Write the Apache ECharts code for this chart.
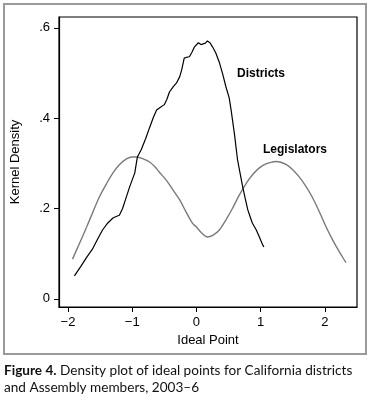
<!DOCTYPE html>
<html><head><meta charset="utf-8">
<script src="https://cdn.jsdelivr.net/npm/echarts@6/dist/echarts.min.js"></script>
<style>html,body{margin:0;padding:0;background:#fff}#c{width:372px;height:400px}</style>
</head><body><div id="c"></div>
<script>
// Districts kernel density (ideal point, density)
const districtsX = [-1.90,-1.80,-1.71,-1.62,-1.54,-1.46,-1.38,-1.30,-1.24,-1.20,-1.15,-1.10,-1.04,-0.96,-0.92,-0.86,-0.79,-0.73,-0.67,-0.62,-0.56,-0.50,-0.46,-0.42,-0.36,-0.31,-0.26,-0.23,-0.19,-0.15,-0.11,-0.07,-0.03,0.00,0.03,0.07,0.10,0.14,0.17,0.21,0.25,0.30,0.36,0.41,0.46,0.51,0.54,0.59,0.64,0.68,0.72,0.76,0.80,0.84,0.87,0.93,0.98,1.03,1.05];
const districtsY = [0.051,0.072,0.092,0.110,0.132,0.153,0.168,0.179,0.183,0.185,0.200,0.222,0.248,0.279,0.314,0.330,0.355,0.379,0.402,0.418,0.424,0.430,0.442,0.458,0.470,0.478,0.492,0.507,0.533,0.535,0.536,0.546,0.558,0.562,0.567,0.563,0.562,0.566,0.571,0.567,0.558,0.545,0.522,0.497,0.469,0.445,0.418,0.367,0.308,0.278,0.248,0.222,0.197,0.180,0.168,0.153,0.137,0.120,0.115];
// Legislators kernel density
const legisX = [-1.93,-1.82,-1.71,-1.61,-1.51,-1.40,-1.30,-1.20,-1.09,-1.00,-0.93,-0.83,-0.73,-0.65,-0.58,-0.47,-0.36,-0.26,-0.16,-0.06,0.00,0.08,0.17,0.26,0.36,0.46,0.56,0.66,0.78,0.88,0.98,1.08,1.18,1.24,1.30,1.40,1.50,1.60,1.70,1.80,1.91,2.02,2.10,2.18,2.26,2.33];
const legisY = [0.088,0.123,0.159,0.193,0.226,0.255,0.279,0.297,0.310,0.314,0.314,0.310,0.303,0.293,0.281,0.263,0.240,0.219,0.192,0.167,0.159,0.146,0.137,0.141,0.153,0.175,0.200,0.228,0.257,0.276,0.290,0.299,0.303,0.304,0.303,0.297,0.286,0.270,0.250,0.226,0.194,0.159,0.136,0.115,0.096,0.080];
const xTicks = [-2,-1,0,1,2];
const yTicks = [0,0.2,0.4,0.6];
const yTickLabels = ['0','.2','.4','.6'];
const xTickLabels = ['\u22122','\u22121','0','1','2'];

const chart = echarts.init(document.getElementById('c'), null, {renderer:'canvas'});
const pairs = (xs, ys) => xs.map((x,i)=>[x, ys[i]]);
const font = 'Liberation Sans, Arial, sans-serif';
chart.setOption({
  animation:false,
  backgroundColor:'#fff',
  grid:{left:59, top:17, right:15, bottom:93, show:true, borderColor:'#000', borderWidth:1.2, backgroundColor:'transparent'},
  xAxis:{
    type:'value', min:-2.14, max:2.5,
    name:'Ideal Point', nameLocation:'middle', nameGap:22,
    nameTextStyle:{fontFamily:font, fontSize:13, color:'#000'},
    axisLine:{show:true, onZero:false, lineStyle:{color:'#000', width:1.2}},
    axisTick:{show:true, length:5, customValues:xTicks, lineStyle:{color:'#000'}},
    axisLabel:{customValues:xTicks, margin:9, fontFamily:font, fontSize:13, color:'#000',
      formatter:v=>xTickLabels[xTicks.indexOf(Math.round(v))]},
    splitLine:{show:false}
  },
  yAxis:{
    type:'value', min:-0.018, max:0.624,
    name:'Kernel Density', nameLocation:'middle', nameGap:37, nameRotate:90,
    nameTextStyle:{fontFamily:font, fontSize:13, color:'#000'},
    axisLine:{show:true, onZero:false, lineStyle:{color:'#000', width:1.2}},
    axisTick:{show:true, length:5, customValues:yTicks, lineStyle:{color:'#000'}},
    axisLabel:{customValues:yTicks, margin:9, fontFamily:font, fontSize:13, color:'#000',
      formatter:v=>{const i=yTicks.findIndex(t=>Math.abs(t-v)<1e-6);return i>=0?yTickLabels[i]:'';}},
    splitLine:{show:false}
  },
  series:[
    {name:'Legislators', type:'line', data:pairs(legisX, legisY), showSymbol:false, smooth:0.3,
     lineStyle:{color:'#7a7a7a', width:1.4}},
    {name:'Districts', type:'line', data:pairs(districtsX, districtsY), showSymbol:false, smooth:false,
     lineStyle:{color:'#000', width:1.2}}
  ],
  graphic:[
    {type:'rect', shape:{x:4, y:4, width:362, height:350}, style:{fill:'none', stroke:'#9a9a9a', lineWidth:2}, silent:true},
    {type:'text', left:237, top:68, style:{text:'Districts', font:'bold 12px '+font, fill:'#000'}},
    {type:'text', left:263, top:144, style:{text:'Legislators', font:'bold 12px '+font, fill:'#000'}},
    {type:'text', left:4, top:362, style:{
      text:'{b|Figure 4.} Density plot of ideal points for California districts\nand Assembly members, 2003\u20136',
      font:'13.6px Lato, sans-serif', fill:'#111', lineHeight:17,
      rich:{b:{font:'bold 13.6px Lato, sans-serif', fill:'#111', lineHeight:17}}}}
  ]
});
</script></body></html>
